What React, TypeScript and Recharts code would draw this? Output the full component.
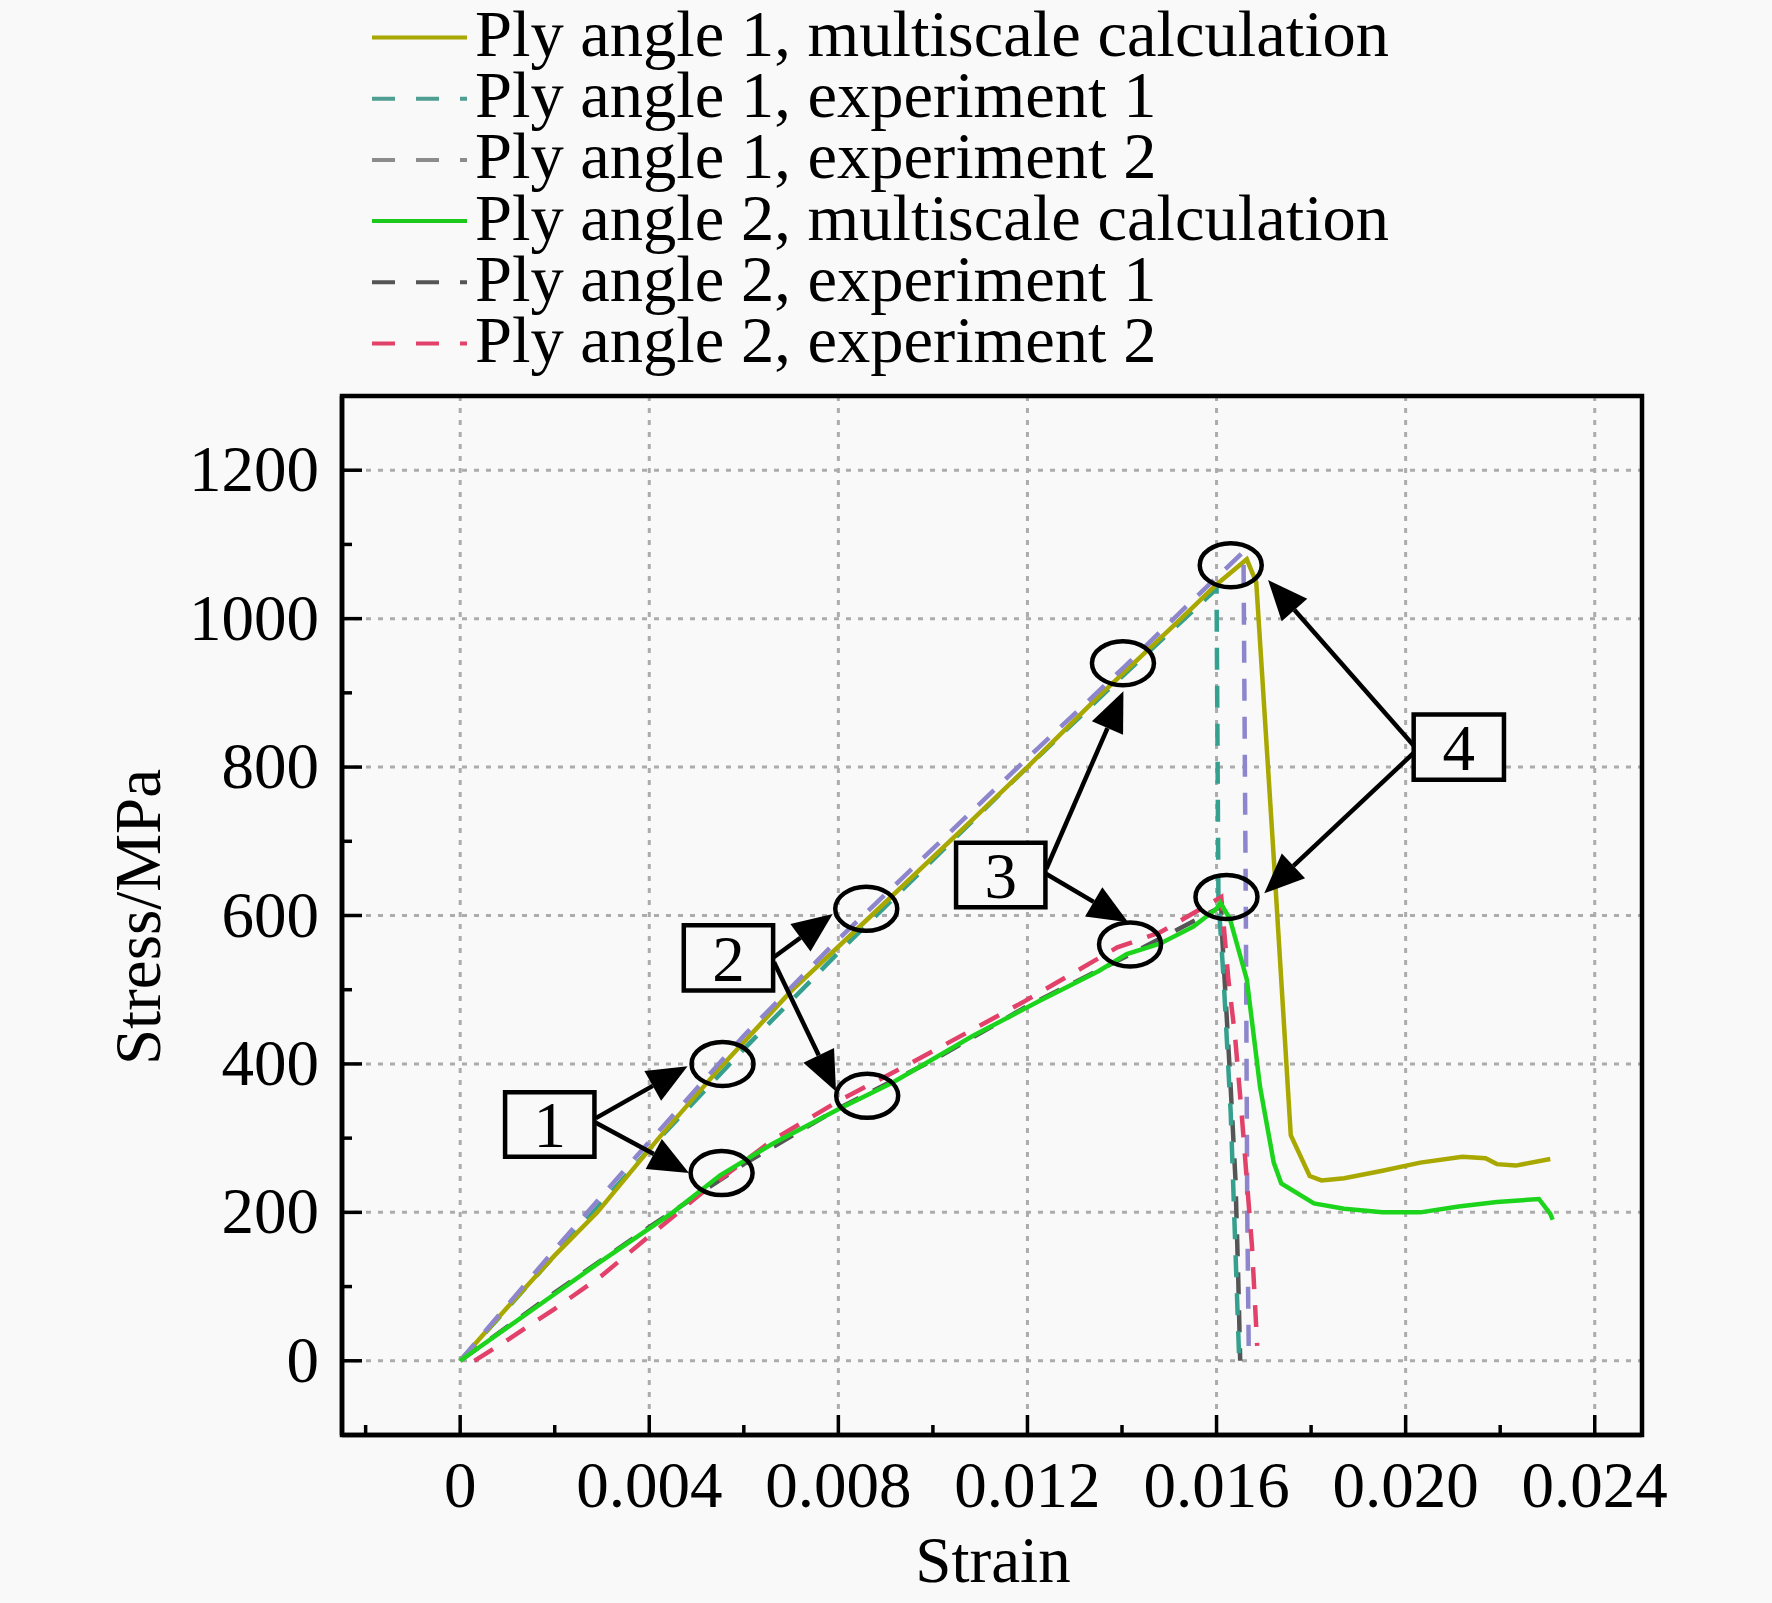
import React from 'react'
import {
  LineChart,
  Line,
  XAxis,
  YAxis,
  CartesianGrid,
  ReferenceArea,
  ReferenceLine,
  ReferenceDot,
} from 'recharts'

const FONT = "'Liberation Serif', 'Times New Roman', serif"
const BG = '#f9f9f9'

// axis ticks
const xMajorTicks = [0, 0.004, 0.008, 0.012, 0.016, 0.02, 0.024]
const xTickLabels = ['0', '0.004', '0.008', '0.012', '0.016', '0.020', '0.024']
const xMinorTicks = [-0.002, 0.002, 0.006, 0.01, 0.014, 0.018, 0.022]
const yMajorTicks = [0, 200, 400, 600, 800, 1000, 1200]
const yMinorTicks = [100, 300, 500, 700, 900, 1100]

// Ply angle 1, multiscale calculation
const ply1CalcStrain = [0, 0.001, 0.002, 0.0029, 0.0042, 0.0055, 0.007, 0.0087, 0.01085, 0.012, 0.0135, 0.01525, 0.016, 0.01664, 0.01684, 0.01721, 0.01757, 0.01797, 0.01822, 0.0187, 0.01951, 0.02031, 0.0212, 0.02169, 0.02193, 0.02233, 0.02306]
const ply1CalcStress = [0, 72, 142, 200, 300, 395, 498, 600, 730, 800, 895, 1000, 1046, 1080, 1049, 678, 304, 249, 243, 246, 256, 267, 275, 273, 265, 263, 272]

// Ply angle 1, experiment 1
const ply1Exp1Strain = [0, 0.002, 0.004, 0.006, 0.008, 0.01, 0.012, 0.014, 0.016, 0.01604, 0.01615, 0.0163, 0.01648]
const ply1Exp1Stress = [0, 142, 285, 420, 550, 675, 800, 922, 1040, 622, 514, 334, 0]

// Ply angle 1, experiment 2
const ply1Exp2Strain = [0, 0.002, 0.004, 0.006, 0.008, 0.01, 0.012, 0.014, 0.0155, 0.01657, 0.01662, 0.01665, 0.01668]
const ply1Exp2Stress = [0, 150, 295, 438, 568, 690, 812, 932, 1025, 1090, 600, 200, 20]

// Ply angle 2, multiscale calculation
const ply2CalcStrain = [0, 0.001, 0.002, 0.003, 0.0045, 0.0055, 0.0066, 0.008, 0.00915, 0.01085, 0.01226, 0.0135, 0.0141, 0.0148, 0.01551, 0.016, 0.01608, 0.01628, 0.01664, 0.01692, 0.01721, 0.01737, 0.01806, 0.0187, 0.01951, 0.02031, 0.02112, 0.02193, 0.02282, 0.02306, 0.02311]
const ply2CalcStress = [0, 45, 90, 135, 200, 250, 292, 339, 375, 438, 485, 525, 548, 562, 585, 609, 617, 596, 514, 369, 267, 239, 212, 205, 200, 200, 208, 214, 218, 198, 190]

// Ply angle 2, experiment 1
const ply2Exp1Strain = [0, 0.002, 0.004, 0.006, 0.008, 0.01, 0.012, 0.014, 0.0161, 0.01611, 0.01629, 0.0164, 0.01646, 0.0165]
const ply2Exp1Stress = [0, 92, 180, 265, 340, 405, 478, 542, 612, 582, 379, 244, 109, 0]

// Ply angle 2, experiment 2
const ply2Exp2Strain = [0.0003, 0.001, 0.002, 0.003, 0.004, 0.00513, 0.0066, 0.008, 0.0095, 0.0119, 0.0139, 0.0148, 0.0161, 0.01625, 0.01639, 0.01653, 0.01664, 0.01675, 0.01686]
const ply2Exp2Stress = [0, 28, 70, 115, 168, 227, 297, 350, 400, 483, 557, 577, 625, 514, 438, 334, 244, 154, 20]

// annotations (strain, stress)
const boxes = [
  { label: '1', x1: 0.00095, x2: 0.00284, y1: 275, y2: 362 },
  { label: '2', x1: 0.00473, x2: 0.00662, y1: 499, y2: 587 },
  { label: '3', x1: 0.01049, x2: 0.01238, y1: 611, y2: 698 },
  { label: '4', x1: 0.02017, x2: 0.02208, y1: 783, y2: 871 },
]
const arrows = [
  { from: [0.00287, 327], to: [0.00481, 397] },
  { from: [0.00286, 321], to: [0.00484, 253] },
  { from: [0.00664, 544], to: [0.00788, 602] },
  { from: [0.00664, 537], to: [0.00795, 363] },
  { from: [0.0124, 663], to: [0.01403, 902] },
  { from: [0.0124, 656], to: [0.01413, 591] },
  { from: [0.02017, 829], to: [0.01709, 1052] },
  { from: [0.02017, 819], to: [0.01701, 630] },
]
const circles = [
  [0.00555, 400],
  [0.00553, 253],
  [0.00859, 609],
  [0.00861, 357],
  [0.01402, 940],
  [0.01417, 561],
  [0.0163, 1072],
  [0.01621, 625],
]

type Pt = { x: number; y: number }
const zip = (xs: number[], ys: number[]): Pt[] => xs.map((x, i) => ({ x, y: ys[i] }))

const series = [
  { name: 'Ply angle 1, multiscale calculation', data: zip(ply1CalcStrain, ply1CalcStress), color: '#a8a800', legendColor: '#a8a800', dashed: false },
  { name: 'Ply angle 1, experiment 1', data: zip(ply1Exp1Strain, ply1Exp1Stress), color: '#36a08e', legendColor: '#4f9e92', dashed: true },
  { name: 'Ply angle 1, experiment 2', data: zip(ply1Exp2Strain, ply1Exp2Stress), color: '#8d86cc', legendColor: '#8c8c8c', dashed: true },
  { name: 'Ply angle 2, multiscale calculation', data: zip(ply2CalcStrain, ply2CalcStress), color: '#1cd41c', legendColor: '#1cc81c', dashed: false },
  { name: 'Ply angle 2, experiment 1', data: zip(ply2Exp1Strain, ply2Exp1Stress), color: '#555555', legendColor: '#555555', dashed: true },
  { name: 'Ply angle 2, experiment 2', data: zip(ply2Exp2Strain, ply2Exp2Stress), color: '#e2416a', legendColor: '#e2416a', dashed: true },
]
// which line sits on top of which
const drawOrder = [4, 1, 0, 2, 5, 3]

const near = (a: number, b: number) => Math.abs(a - b) < 1e-9

function XTick(props: any) {
  const { x, y, payload } = props
  const i = xMajorTicks.findIndex((t) => near(t, payload.value))
  const major = i >= 0
  return (
    <g>
      <line x1={x} x2={x} y1={y} y2={y - (major ? 20 : 10)} stroke="#000" strokeWidth={3.5} />
      {major && (
        <text x={x} y={y + 72} textAnchor="middle" fontSize={65} fontFamily={FONT} fill="#000">
          {xTickLabels[i]}
        </text>
      )}
    </g>
  )
}

function YTick(props: any) {
  const { x, y, payload } = props
  const major = yMajorTicks.some((t) => near(t, payload.value))
  return (
    <g>
      <line x1={x} x2={x + (major ? 20 : 10)} y1={y} y2={y} stroke="#000" strokeWidth={3.5} />
      {major && (
        <text x={x - 23} y={y + 21} textAnchor="end" fontSize={65} fontFamily={FONT} fill="#000">
          {payload.value}
        </text>
      )}
    </g>
  )
}

function Arrow(props: any) {
  const { x1, y1, x2, y2 } = props
  if ([x1, y1, x2, y2].some((v) => typeof v !== 'number' || isNaN(v))) return <g />
  const len = Math.hypot(x2 - x1, y2 - y1)
  const ux = (x2 - x1) / len
  const uy = (y2 - y1) / len
  const bx = x2 - ux * 40
  const by = y2 - uy * 40
  const pts = `${x2},${y2} ${bx - uy * 17},${by + ux * 17} ${bx + uy * 17},${by - ux * 17}`
  return (
    <g>
      <line x1={x1} y1={y1} x2={bx} y2={by} stroke="#000" strokeWidth={4.5} />
      <polygon points={pts} fill="#000" />
    </g>
  )
}

function Ellipse(props: any) {
  const { cx, cy } = props
  if (typeof cx !== 'number' || typeof cy !== 'number') return <g />
  return <ellipse cx={cx} cy={cy} rx={31} ry={22} fill="none" stroke="#000" strokeWidth={4.5} />
}

function LegendBlock() {
  return (
    <svg width={1772} height={380} style={{ position: 'absolute', left: 0, top: 0 }}>
      {series.map((s, i) => (
        <g key={s.name}>
          <line
            x1={372}
            x2={467}
            y1={37.5 + i * 61.2}
            y2={37.5 + i * 61.2}
            stroke={s.legendColor}
            strokeWidth={4}
            strokeDasharray={s.dashed ? '23 21' : undefined}
          />
          <text x={475} y={56 + i * 61.2} fontSize={66.5} fontFamily={FONT} fill="#000">
            {s.name}
          </text>
        </g>
      ))}
    </svg>
  )
}

const xAllTicks = [...xMinorTicks, ...xMajorTicks].sort((a, b) => a - b)
const yAllTicks = [...yMinorTicks, ...yMajorTicks].sort((a, b) => a - b)

export default function App() {
  return (
    <div style={{ position: 'absolute', left: 0, top: 0, width: 1772, height: 1603, background: BG, overflow: 'hidden' }}>
      <LegendBlock />
      <div style={{ position: 'absolute', left: 0, top: 0 }}>
        <LineChart width={1772} height={1603} margin={{ top: 396, right: 130, bottom: 48, left: 142 }}>
          <CartesianGrid
            stroke="#acacac"
            strokeWidth={3}
            strokeDasharray="5 7"
            verticalValues={xMajorTicks}
            horizontalValues={yMajorTicks}
          />
          <XAxis
            dataKey="x"
            type="number"
            domain={[-0.0025, 0.025]}
            ticks={xAllTicks}
            interval={0}
            allowDataOverflow
            tickSize={0}
            tickMargin={0}
            tickLine={false}
            tick={(p: any) => <XTick {...p} />}
            axisLine={{ stroke: '#000', strokeWidth: 4.5 }}
            height={120}
          />
          <YAxis
            type="number"
            domain={[-100, 1300]}
            ticks={yAllTicks}
            interval={0}
            allowDataOverflow
            tickSize={0}
            tickMargin={0}
            tickLine={false}
            tick={(p: any) => <YTick {...p} />}
            axisLine={{ stroke: '#000', strokeWidth: 4.5 }}
            width={200}
          />
          {drawOrder.map((i) => {
            const s = series[i]
            return (
              <Line
                key={s.name}
                name={s.name}
                data={s.data}
                dataKey="y"
                type="linear"
                stroke={s.color}
                strokeWidth={4.5}
                strokeDasharray={s.dashed ? '22 16' : undefined}
                dot={false}
                activeDot={false}
                isAnimationActive={false}
              />
            )
          })}
          <ReferenceArea
            x1={-0.0025}
            x2={0.025}
            y1={-100}
            y2={1300}
            fill="none"
            stroke="#000"
            strokeWidth={4.5}
            ifOverflow="visible"
          />
          {circles.map(([cx, cy], i) => (
            <ReferenceDot key={'c' + i} x={cx} y={cy} r={20} ifOverflow="visible" shape={(p: any) => <Ellipse {...p} />} />
          ))}
          {arrows.map((a, i) => (
            <ReferenceLine
              key={'a' + i}
              segment={[
                { x: a.from[0], y: a.from[1] },
                { x: a.to[0], y: a.to[1] },
              ]}
              ifOverflow="visible"
              shape={(p: any) => <Arrow {...p} />}
            />
          ))}
          {boxes.map((b) => (
            <ReferenceArea
              key={'b' + b.label}
              x1={b.x1}
              x2={b.x2}
              y1={b.y1}
              y2={b.y2}
              fill={BG}
              fillOpacity={1}
              stroke="#000"
              strokeWidth={4.5}
              ifOverflow="visible"
              label={{ value: b.label, position: 'center', fontSize: 65, fill: '#000', fontFamily: FONT }}
            />
          ))}
        </LineChart>
      </div>
      <div
        style={{
          position: 'absolute',
          left: 138,
          top: 917,
          transform: 'translate(-50%, -50%) rotate(-90deg)',
          fontFamily: FONT,
          fontSize: 65,
          lineHeight: 1,
          whiteSpace: 'nowrap',
        }}
      >
        Stress/MPa
      </div>
      <div
        style={{
          position: 'absolute',
          left: 993,
          top: 1560,
          transform: 'translate(-50%, -50%)',
          fontFamily: FONT,
          fontSize: 65,
          lineHeight: 1,
          whiteSpace: 'nowrap',
        }}
      >
        Strain
      </div>
    </div>
  )
}
